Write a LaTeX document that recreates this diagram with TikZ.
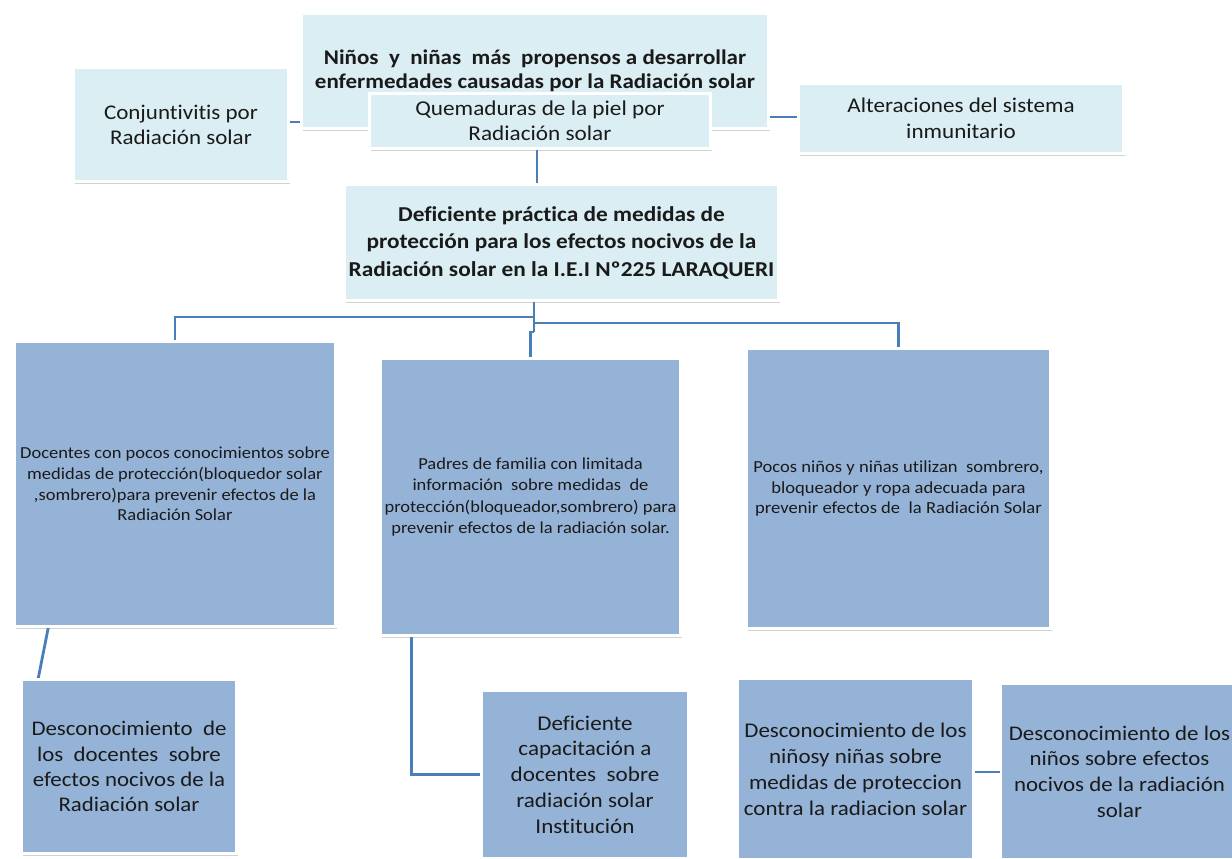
\documentclass[tikz,border=0pt]{standalone}
\usepackage{fontspec}
\setmainfont{Carlito}[FakeStretch=1.1,Ligatures=NoCommon]
\usetikzlibrary{shadows,backgrounds,calc}
\definecolor{lightfill}{HTML}{DAEEF3}
\definecolor{darkfill}{HTML}{95B3D7}
\definecolor{connc}{HTML}{4A7EBB}
\definecolor{txt}{HTML}{1A1A1A}
\tikzset{
  box/.style={draw=white, line width=2.5pt, inner sep=2pt, align=center, text=txt,
    drop shadow={shadow xshift=1.2pt, shadow yshift=-2pt, opacity=0.35}},
  lbox/.style={box, fill=lightfill},
  dbox/.style={box, fill=darkfill},
  conn/.style={draw=connc, line width=2.8pt},
}
\begin{document}
\begin{tikzpicture}[x=1pt,y=-1pt]
\useasboundingbox (0,0) rectangle (1232,859);
\clip (0,0) rectangle (1232,859);
% top row
\node[lbox, minimum width=467pt, minimum height=115pt, font=\fontsize{20.9}{24}\selectfont\bfseries] (top) at (535,71)
  {Niños\ \ y\ \ niñas\ \ más\ \ propensos a desarrollar\\enfermedades causadas por la Radiación solar};
\node[lbox, minimum width=215pt, minimum height=114pt, font=\fontsize{20.9}{25}\selectfont] (conj) at (181,124.5)
  {Conjuntivitis por\\Radiación solar};
\node[lbox, minimum width=341pt, minimum height=55pt, font=\fontsize{21.1}{25}\selectfont] (quem) at (540,121)
  {Quemaduras de la piel por\\Radiación solar};
\node[lbox, minimum width=325pt, minimum height=70pt, font=\fontsize{21}{26}\selectfont] (alter) at (961,118.5)
  {Alteraciones del sistema\\inmunitario};
% central problem
\node[lbox, minimum width=434pt, minimum height=116pt, font=\fontsize{21.2}{27.5}\selectfont\bfseries] (defi) at (561.5,242.5)
  {Deficiente práctica de medidas de\\protección para los efectos nocivos de la\\Radiación solar en la I.E.I Nº225 LARAQUERI};
% causes
\node[dbox, minimum width=321pt, minimum height=285pt, font=\fontsize{16.8}{20.7}\selectfont] (doc) at (175,484)
  {Docentes con pocos conocimientos sobre\\medidas de protección(bloquedor solar\\,sombrero)para prevenir efectos de la\\Radiación Solar};
\node[dbox, minimum width=300pt, minimum height=277pt, font=\fontsize{16.8}{21.3}\selectfont] (pad) at (530.5,497)
  {Padres de familia con limitada\\información\ \ sobre medidas\ \ de\\protección(bloqueador,sombrero) para\\prevenir efectos de la radiación solar.};
\node[dbox, minimum width=304pt, minimum height=280pt, font=\fontsize{16.9}{20.5}\selectfont] (poc) at (898.5,488.5)
  {Pocos niños y niñas utilizan\ \ sombrero,\\bloqueador y ropa adecuada para\\prevenir efectos de\ \ la Radiación Solar};
% sub-causes
\node[dbox, minimum width=215pt, minimum height=174pt, font=\fontsize{20.8}{25.3}\selectfont] (descdoc) at (129,766.5)
  {Desconocimiento\ \ de\\los\ \ docentes\ \ sobre\\efectos nocivos de la\\Radiación solar};
\node[dbox, minimum width=207pt, minimum height=168pt, font=\fontsize{21}{25.75}\selectfont] (defcap) at (585,774.5)
  {Deficiente\\capacitación a\\docentes\ \ sobre\\radiación solar\\Institución};
\node[dbox, minimum width=236pt, minimum height=180pt, font=\fontsize{20.9}{26}\selectfont] (descn) at (855.5,769)
  {Desconocimiento de los\\niñosy niñas sobre\\medidas de proteccion\\contra la radiacion solar};
\node[dbox, minimum width=237pt, minimum height=175pt, font=\fontsize{20.8}{25.7}\selectfont] (descn2) at (1119.5,771.5)
  {Desconocimiento de los\\niños sobre efectos\\nocivos de la radiación\\solar};
% connectors
\begin{scope}[on background layer]
  \fill[white] (0,0) rectangle (1232,859);
  \coordinate (j1) at (534,317);
  \coordinate (j2) at (534,323);
  \coordinate (j3) at (534,332);
  \draw[conn] (conj.east |- 0,122) -- (top.west |- 0,122);
  \draw[conn] (top.east |- 0,117) -- (alter.west |- 0,117);
  \draw[conn] (quem.south -| 537,0) -- (defi.north -| 537,0);
  \draw[conn] (defi.south -| j1) -- (j3);
  \draw[conn] (j1) -| (doc.north);
  \draw[conn] (j2) -| (poc.north);
  \draw[conn] (j3) -| (pad.north);
  \draw[conn] ($(doc.south west)+(35,0)$) -- ($(descdoc.north west)+(18,0)$);
  \draw[conn] ($(pad.south west)+(32,0)$) |- (defcap.west);
  \draw[conn] ($(poc.south west)+(34,0)$) -- ($(poc.south west)+(34,0)$ |- descn.north);
  \draw[conn] (descn.east |- 0,772) -- (descn2.west |- 0,772);
\end{scope}
\end{tikzpicture}
\end{document}
